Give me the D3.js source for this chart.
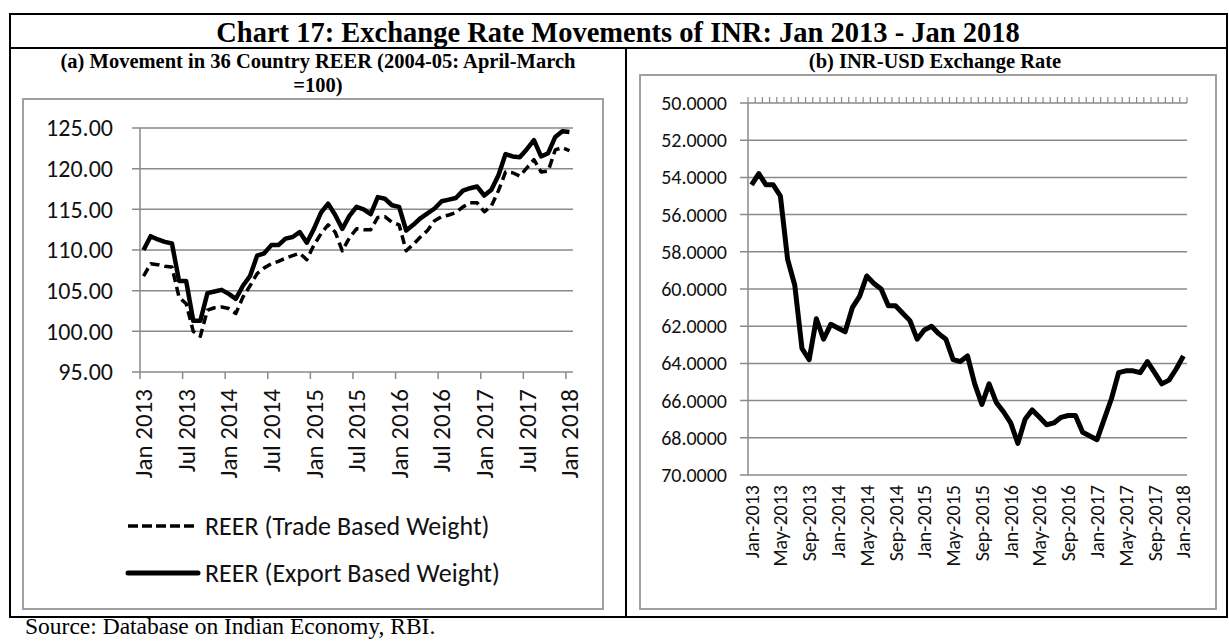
<!DOCTYPE html>
<html>
<head>
<meta charset="utf-8">
<script src="https://cdnjs.cloudflare.com/ajax/libs/d3/7.8.5/d3.min.js"></script>
<style>
  body { margin: 0; background: #fff; }
  svg { display: block; }
</style>
</head>
<body>
<div id="chart"></div>
<script>
// --- data (monthly, Jan 2013 - Jan 2018)
const months = d3.timeMonth.range(new Date(2013, 0, 1), new Date(2018, 1, 1));

const reerTrade = [
  106.8, 108.3, 108.2, 108.0, 107.9, 104.2, 103.4, 100.0, 99.4, 102.6,
  102.9, 103.0, 102.8, 102.2, 104.2, 105.6, 107.1, 107.8, 108.3, 108.6,
  109.0, 109.3, 109.6, 108.8, 110.6, 112.0, 113.1, 112.2, 109.9, 111.5,
  112.6, 112.5, 112.5, 114.0, 114.1, 113.4, 113.1, 109.9, 110.7, 111.6,
  112.4, 113.6, 114.1, 114.3, 114.6, 115.3, 115.8, 115.8, 114.7, 115.4,
  117.3, 119.6, 119.5, 119.1, 120.1, 121.1, 119.6, 119.7, 122.3, 122.6,
  122.2
];

const reerExport = [
  110.0, 111.7, 111.3, 111.0, 110.8, 106.2, 106.2, 101.3, 101.3, 104.7,
  104.9, 105.1, 104.6, 104.0, 105.6, 106.8, 109.3, 109.6, 110.6, 110.6,
  111.4, 111.6, 112.2, 110.9, 112.6, 114.6, 115.7, 114.3, 112.6, 114.2,
  115.3, 115.0, 114.4, 116.5, 116.3, 115.5, 115.3, 112.4, 113.1, 113.9,
  114.5, 115.1, 116.0, 116.2, 116.4, 117.3, 117.6, 117.8, 116.7, 117.4,
  119.2, 121.8, 121.5, 121.4, 122.4, 123.5, 121.5, 121.9, 123.9, 124.6,
  124.5
];

const inrUsd = [
  54.4, 53.8, 54.4, 54.4, 55.0, 58.4, 59.8, 63.2, 63.8, 61.6,
  62.7, 61.9, 62.1, 62.3, 61.0, 60.4, 59.3, 59.7, 60.0, 60.9,
  60.9, 61.3, 61.7, 62.7, 62.2, 62.0, 62.4, 62.7, 63.8, 63.9,
  63.6, 65.1, 66.2, 65.1, 66.1, 66.6, 67.2, 68.3, 67.0, 66.5,
  66.9, 67.3, 67.2, 66.9, 66.8, 66.8, 67.7, 67.9, 68.1, 67.0,
  65.9, 64.5, 64.4, 64.4, 64.5, 63.9, 64.5, 65.1, 64.9, 64.3,
  63.6
];

const leftTicks = [95, 100, 105, 110, 115, 120, 125];
const rightTicks = [50, 52, 54, 56, 58, 60, 62, 64, 66, 68, 70];
const leftLabelStep = 6;   // Jan / Jul
const rightLabelStep = 4;  // Jan / May / Sep
const seriesNames = ['REER (Trade Based Weight)', 'REER (Export Based Weight)'];

const titleText = 'Chart 17: Exchange Rate Movements of INR: Jan 2013 - Jan 2018';
const subLeft = ['(a) Movement in 36 Country REER (2004-05: April-March', '=100)'];
const subRight = '(b) INR-USD Exchange Rate';
const sourceText = 'Source: Database on Indian Economy, RBI.';

// --- setup
const width = 1229;
const height = 641;
const sans = 'Calibri, Carlito, Lato, sans-serif';
const serif = '"Times New Roman", "Liberation Serif", serif';
const gridColor = '#8a8a8a';

const svg = d3.select('#chart')
  .append('svg')
  .attr('width', width)
  .attr('height', height);

svg.append('rect').attr('width', width).attr('height', height).attr('fill', '#fff');

// --- outer frame
const frame = svg.append('g')
  .attr('stroke', '#000')
  .attr('stroke-width', 2)
  .attr('fill', 'none');
frame.append('rect').attr('x', 10).attr('y', 14).attr('width', 1217).attr('height', 603);
frame.append('line').attr('x1', 10).attr('x2', 1227).attr('y1', 48).attr('y2', 48);
frame.append('line').attr('x1', 626).attr('x2', 626).attr('y1', 48).attr('y2', 617);

svg.append('text')
  .attr('x', 618).attr('y', 42)
  .attr('text-anchor', 'middle')
  .attr('font-family', serif)
  .attr('font-weight', 'bold')
  .attr('font-size', 28.5)
  .text(titleText);

svg.append('g').selectAll('text')
  .data(subLeft)
  .join('text')
    .attr('x', 318)
    .attr('y', (d, i) => 68 + i * 24)
    .attr('text-anchor', 'middle')
    .attr('font-family', serif)
    .attr('font-weight', 'bold')
    .attr('font-size', 20.5)
    .text(d => d);

svg.append('text')
  .attr('x', 935).attr('y', 68)
  .attr('text-anchor', 'middle')
  .attr('font-family', serif)
  .attr('font-weight', 'bold')
  .attr('font-size', 20.5)
  .text(subRight);

svg.append('text')
  .attr('x', 25).attr('y', 634)
  .attr('font-family', serif)
  .attr('font-size', 23.5)
  .text(sourceText);

// chart boxes
svg.append('rect')
  .attr('x', 23).attr('y', 99).attr('width', 580).attr('height', 510)
  .attr('fill', 'none').attr('stroke', '#a0a0a0').attr('stroke-width', 2);
svg.append('rect')
  .attr('x', 640).attr('y', 75).attr('width', 576).attr('height', 534)
  .attr('fill', 'none').attr('stroke', '#a0a0a0').attr('stroke-width', 2);

// =========================== (a) REER
const xL = d3.scaleBand().domain(d3.range(months.length)).range([140, 573]);
const yL = d3.scaleLinear().domain([95, 125]).range([372, 128]);
const bwL = xL.bandwidth();
const fmtL = d3.timeFormat('%b %Y');

const left = svg.append('g');

left.append('g')
  .selectAll('line')
  .data(leftTicks)
  .join('line')
    .attr('x1', 132).attr('x2', 573)
    .attr('y1', d => yL(d)).attr('y2', d => yL(d))
    .attr('stroke', gridColor).attr('stroke-width', 1.5);

left.append('line')
  .attr('x1', 140).attr('x2', 140)
  .attr('y1', yL(125)).attr('y2', yL(95))
  .attr('stroke', gridColor).attr('stroke-width', 1.5);

left.append('g')
  .attr('transform', 'translate(140,0)')
  .call(d3.axisLeft(yL).tickValues(leftTicks).tickFormat(d3.format('.2f')).tickSize(0).tickPadding(27))
  .call(g => g.select('.domain').remove())
  .call(g => g.selectAll('text')
    .attr('font-family', sans).attr('font-size', 24).attr('fill', '#111'));

left.append('g')
  .attr('transform', `translate(0,${yL(95)})`)
  .call(d3.axisBottom(xL)
    .tickValues(d3.range(0, months.length, leftLabelStep))
    .tickFormat(i => fmtL(months[i]))
    .tickSize(7))
  .call(g => g.select('.domain').remove())
  .call(g => g.selectAll('.tick line')
    .attr('x1', -bwL / 2).attr('x2', -bwL / 2)
    .attr('stroke', gridColor).attr('stroke-width', 1.5))
  .call(g => g.selectAll('text')
    .attr('transform', 'rotate(-90)')
    .attr('x', -17).attr('y', 0).attr('dy', '0.35em')
    .attr('text-anchor', 'end')
    .attr('font-family', sans).attr('font-size', 25).attr('fill', '#111'));

const lineL = d3.line()
  .x((d, i) => xL(i) + bwL / 2)
  .y(d => yL(d));

left.append('path')
  .datum(reerTrade)
  .attr('d', lineL)
  .attr('fill', 'none')
  .attr('stroke', '#000')
  .attr('stroke-width', 3.5)
  .attr('stroke-dasharray', '9 5')
  .attr('stroke-linejoin', 'round');

left.append('path')
  .datum(reerExport)
  .attr('d', lineL)
  .attr('fill', 'none')
  .attr('stroke', '#000')
  .attr('stroke-width', 4.5)
  .attr('stroke-linejoin', 'round');

// legend
const legend = left.append('g').selectAll('g')
  .data(seriesNames)
  .join('g')
    .attr('transform', (d, i) => `translate(128,${526 + i * 47})`);

legend.append('line')
  .attr('x1', 0).attr('x2', 70)
  .attr('stroke', '#000')
  .attr('stroke-width', (d, i) => i === 0 ? 3.5 : 5)
  .attr('stroke-linecap', (d, i) => i === 0 ? 'butt' : 'round')
  .attr('stroke-dasharray', (d, i) => i === 0 ? '10 4' : null);

legend.append('text')
  .attr('x', 77).attr('dy', '0.35em')
  .attr('font-family', sans).attr('font-size', 26).attr('fill', '#111')
  .text(d => d);

// =========================== (b) INR-USD
const xR = d3.scaleBand().domain(d3.range(months.length)).range([748, 1187]);
const yR = d3.scaleLinear().domain([50, 70]).range([103, 475]);
const bwR = xR.bandwidth();
const fmtR = d3.timeFormat('%b-%Y');

const right = svg.append('g');

right.append('g')
  .selectAll('line')
  .data(rightTicks)
  .join('line')
    .attr('x1', 740).attr('x2', 1187)
    .attr('y1', d => yR(d)).attr('y2', d => yR(d))
    .attr('stroke', gridColor).attr('stroke-width', 1.5);

right.append('line')
  .attr('x1', 748).attr('x2', 748)
  .attr('y1', yR(50)).attr('y2', yR(70))
  .attr('stroke', gridColor).attr('stroke-width', 1.5);

// monthly tick marks on the (top) category axis
right.append('g')
  .selectAll('line')
  .data(d3.range(months.length + 1))
  .join('line')
    .attr('x1', i => i < months.length ? xR(i) : xR.range()[1])
    .attr('x2', i => i < months.length ? xR(i) : xR.range()[1])
    .attr('y1', yR(50) - 6).attr('y2', yR(50))
    .attr('stroke', gridColor).attr('stroke-width', 1.2);

right.append('g')
  .attr('transform', 'translate(748,0)')
  .call(d3.axisLeft(yR).tickValues(rightTicks).tickFormat(d3.format('.4f')).tickSize(0).tickPadding(21))
  .call(g => g.select('.domain').remove())
  .call(g => g.selectAll('text')
    .attr('font-family', sans).attr('font-size', 20).attr('fill', '#111'));

right.append('g')
  .attr('transform', `translate(0,${yR(70)})`)
  .call(d3.axisBottom(xR)
    .tickValues(d3.range(0, months.length, rightLabelStep))
    .tickFormat(i => fmtR(months[i]))
    .tickSize(0))
  .call(g => g.select('.domain').remove())
  .call(g => g.selectAll('text')
    .attr('transform', 'rotate(-90)')
    .attr('x', -10).attr('y', 0).attr('dy', '0.35em')
    .attr('text-anchor', 'end')
    .attr('font-family', sans).attr('font-size', 20).attr('fill', '#111'));

right.append('path')
  .datum(inrUsd)
  .attr('d', d3.line().x((d, i) => xR(i) + bwR / 2).y(d => yR(d)))
  .attr('fill', 'none')
  .attr('stroke', '#000')
  .attr('stroke-width', 5)
  .attr('stroke-linejoin', 'round');
</script>
</body>
</html>
